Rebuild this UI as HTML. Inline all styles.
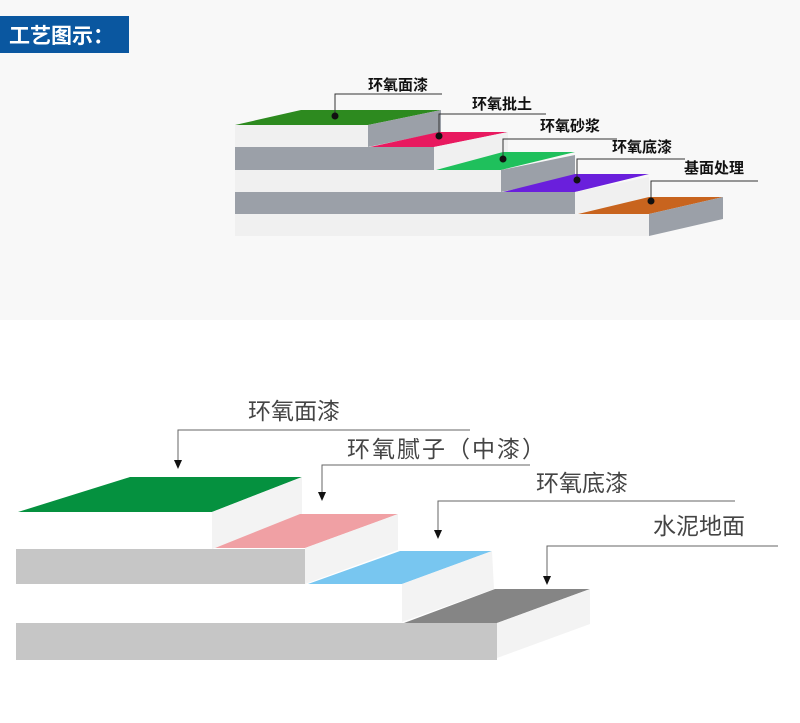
<!DOCTYPE html>
<html><head><meta charset="utf-8">
<style>
html,body{margin:0;padding:0;background:#fff;}
body{width:800px;height:718px;overflow:hidden;font-family:"Liberation Sans","Noto Sans CJK SC",sans-serif;}
</style></head><body>
<svg width="800" height="718" viewBox="0 0 800 718" xmlns="http://www.w3.org/2000/svg">
<rect x="0" y="0" width="800" height="320" fill="#f8f8f8"/>
<rect x="0" y="16" width="129" height="37" fill="#0a57a0"/>
<text x="9" y="43" font-size="21" font-weight="bold" fill="#fff" font-family="Noto Sans CJK SC, sans-serif">工艺图示：</text>

<!-- top diagram -->
<g>
<rect x="235" y="125" width="133" height="22" fill="#f0f0f0"/>
<rect x="235" y="147" width="199" height="23" fill="#9ba0a8"/>
<rect x="235" y="170" width="266" height="22" fill="#f0f0f0"/>
<rect x="235" y="192" width="340" height="22" fill="#9ba0a8"/>
<rect x="235" y="214" width="414" height="22" fill="#f0f0f0"/>
<polygon points="235,125 301,110 441,110 368,125" fill="#2d8a1f"/>
<polygon points="368,125 441,110 441,132 368,147" fill="#9ba0a8"/>
<polygon points="370,147 439,132 508,132 434,147" fill="#e8195f"/>
<polygon points="434,147 508,132 508,155 434,170" fill="#f0f0f0"/>
<polygon points="436,170 503,152 575,152 501,170" fill="#1fc05c"/>
<polygon points="501,170 575,155 575,177 501,192" fill="#9ba0a8"/>
<polygon points="503,192 575,174 649,174 575,192" fill="#6a1fdc"/>
<polygon points="575,192 649,177 649,199 575,214" fill="#f0f0f0"/>
<polygon points="578,214 649,197 723,197 649,214" fill="#c8641e"/>
<polygon points="649,214 723,197 723,219 649,236" fill="#9ba0a8"/>
<g stroke="#333" stroke-width="1" fill="none">
<polyline points="335,116 335,94 442,94"/>
<polyline points="439,136 439,114 546,114"/>
<polyline points="503,159 503,139 617,139"/>
<polyline points="577,180 577,159 685,159"/>
<polyline points="651,201 651,181 758,181"/>
</g>
<g fill="#111"><circle cx="335" cy="116" r="3.5"/><circle cx="439" cy="136" r="3.5"/><circle cx="503" cy="159" r="3.5"/><circle cx="577" cy="180" r="3.5"/><circle cx="651" cy="201" r="3.5"/></g>
<g font-size="15" font-weight="bold" fill="#111" font-family="Noto Sans CJK SC, sans-serif">
<text x="368" y="90">环氧面漆</text>
<text x="472" y="109">环氧批土</text>
<text x="540" y="131">环氧砂浆</text>
<text x="612" y="152">环氧底漆</text>
<text x="684" y="173">基面处理</text>
</g>
</g>

<!-- bottom diagram -->
<g>
<rect x="16" y="549" width="289" height="35" fill="#c6c6c6"/>
<rect x="16" y="623" width="481" height="37" fill="#c6c6c6"/>
<polygon points="18,512 130,477 302,477 212,512" fill="#05913f"/>
<polygon points="212,512 302,477 302,514 212,549" fill="#f3f3f3"/>
<polygon points="215,548 300,514 398,514 305,548" fill="#f0a0a4"/>
<polygon points="305,548 398,514 398,550 305,584" fill="#f3f3f3"/>
<polygon points="308,584 400,551 492,551 402,584" fill="#78c6f0"/>
<polygon points="402,584 492,551 494,589 402,622" fill="#f3f3f3"/>
<polygon points="404,623 495,589 590,589 497,623" fill="#858585"/>
<polygon points="497,623 590,589 590,624 497,658" fill="#f3f3f3"/>
<g stroke="#666" stroke-width="1" fill="none">
<polyline points="178,462 178,430 470,430"/>
<polyline points="322,494 322,465 530,465"/>
<polyline points="438,530 438,501 735,501"/>
<polyline points="547,576 547,546 778,546"/>
</g>
<g fill="#111">
<polygon points="174,460 182,460 178,469"/>
<polygon points="318,492 326,492 322,501"/>
<polygon points="434,530 442,530 438,539"/>
<polygon points="543,576 551,576 547,585"/>
</g>
<g font-size="23" fill="#444" font-family="Noto Sans CJK SC, sans-serif">
<text x="248" y="419">环氧面漆</text>
<text x="347" y="457" letter-spacing="2">环氧腻子（中漆）</text>
<text x="536" y="491">环氧底漆</text>
<text x="653" y="534">水泥地面</text>
</g>
</g>
</svg>
</body></html>
